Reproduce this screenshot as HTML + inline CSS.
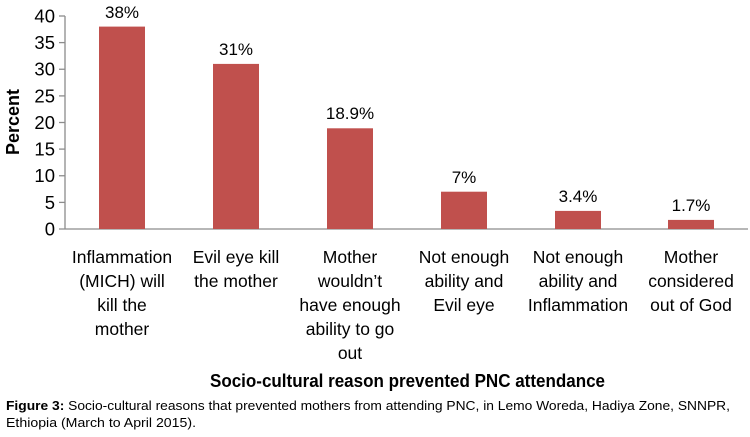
<!DOCTYPE html>
<html><head><meta charset="utf-8"><style>
html,body{margin:0;padding:0;background:#fff;}
svg{display:block;font-family:"Liberation Sans",sans-serif;}
</style></head><body>
<svg width="750" height="437" viewBox="0 0 750 437" xmlns="http://www.w3.org/2000/svg">
<g stroke="#8c8c8c" stroke-width="1.3">
<line x1="65" y1="16" x2="65" y2="229"/>
<line x1="59" y1="229" x2="748" y2="229"/>
<line x1="59" y1="16" x2="65" y2="16"/>
<line x1="59" y1="42.6" x2="65" y2="42.6"/>
<line x1="59" y1="69.25" x2="65" y2="69.25"/>
<line x1="59" y1="95.9" x2="65" y2="95.9"/>
<line x1="59" y1="122.5" x2="65" y2="122.5"/>
<line x1="59" y1="149.1" x2="65" y2="149.1"/>
<line x1="59" y1="175.75" x2="65" y2="175.75"/>
<line x1="59" y1="202.4" x2="65" y2="202.4"/>
</g>
<g font-size="18.5" fill="#000" text-anchor="end">
<text x="55" y="22.5">40</text><text x="55" y="49.1">35</text><text x="55" y="75.7">30</text>
<text x="55" y="102.4">25</text><text x="55" y="129">20</text><text x="55" y="155.6">15</text>
<text x="55" y="182.2">10</text><text x="55" y="208.9">5</text><text x="55" y="235.5">0</text>
</g>
<text transform="translate(19,122) rotate(-90)" font-size="18" font-weight="bold" text-anchor="middle">Percent</text>
<g fill="#c0504d">
<rect x="99" y="26.6" width="46" height="202.4"/>
<rect x="213" y="63.9" width="46" height="165.1"/>
<rect x="327" y="128.3" width="46" height="100.7"/>
<rect x="441" y="191.7" width="46" height="37.3"/>
<rect x="555" y="210.9" width="46" height="18.1"/>
<rect x="668" y="219.9" width="46" height="9.1"/>
</g>
<g font-size="17" text-anchor="middle" fill="#000">
<text x="122" y="18">38%</text>
<text x="236" y="55">31%</text>
<text x="350" y="119">18.9%</text>
<text x="464" y="183">7%</text>
<text x="578" y="202">3.4%</text>
<text x="691" y="211">1.7%</text>
</g>
<g font-size="17.5" text-anchor="middle" fill="#000">
<text x="122" y="263">Inflammation</text><text x="122" y="287">(MICH) will</text><text x="122" y="311">kill the</text><text x="122" y="335">mother</text>
<text x="236" y="263">Evil eye kill</text><text x="236" y="287">the mother</text>
<text x="350" y="263">Mother</text><text x="350" y="287">wouldn’t</text><text x="350" y="311">have enough</text><text x="350" y="335">ability to go</text><text x="350" y="359">out</text>
<text x="464" y="263">Not enough</text><text x="464" y="287">ability and</text><text x="464" y="311">Evil eye</text>
<text x="578" y="263">Not enough</text><text x="578" y="287">ability and</text><text x="578" y="311">Inflammation</text>
<text x="691" y="263">Mother</text><text x="691" y="287">considered</text><text x="691" y="311">out of God</text>
</g>
<text x="210" y="387" font-size="18" font-weight="bold" textLength="395" lengthAdjust="spacingAndGlyphs">Socio-cultural reason prevented PNC attendance</text>
<text x="6" y="410" font-size="12.5" textLength="724" lengthAdjust="spacingAndGlyphs"><tspan font-weight="bold">Figure 3:</tspan> Socio-cultural reasons that prevented mothers from attending PNC, in Lemo Woreda, Hadiya Zone, SNNPR,</text>
<text x="6" y="427" font-size="12.5" textLength="190" lengthAdjust="spacingAndGlyphs">Ethiopia (March to April 2015).</text>
</svg>
</body></html>
